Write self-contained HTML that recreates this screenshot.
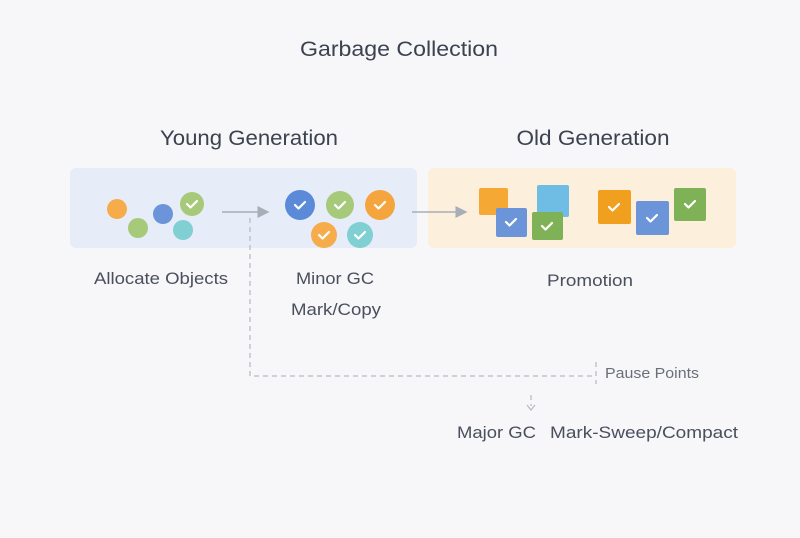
<!DOCTYPE html>
<html><head><style>body{margin:0;background:#f7f7fa}</style></head><body>
<svg width="800" height="533" viewBox="0 0 800 533" xmlns="http://www.w3.org/2000/svg" font-family="Liberation Sans, sans-serif">
<rect width="800" height="533" fill="#f7f7fa"/>
<g fill="#3c4250" text-anchor="middle" lengthAdjust="spacingAndGlyphs">
<text x="399" y="56" font-size="21" textLength="198" lengthAdjust="spacingAndGlyphs">Garbage Collection</text>
<text x="249" y="145" font-size="21" textLength="178" lengthAdjust="spacingAndGlyphs">Young Generation</text>
<text x="593" y="145" font-size="21" textLength="153" lengthAdjust="spacingAndGlyphs">Old Generation</text>
<g font-size="16.5" fill="#4a4f5c">
<text x="161" y="284" textLength="134" lengthAdjust="spacingAndGlyphs">Allocate Objects</text>
<text x="335" y="284" textLength="78" lengthAdjust="spacingAndGlyphs">Minor GC</text>
<text x="336" y="315" textLength="90" lengthAdjust="spacingAndGlyphs">Mark/Copy</text>
<text x="590" y="286" textLength="86" lengthAdjust="spacingAndGlyphs">Promotion</text>
<text x="496.5" y="438" textLength="79" lengthAdjust="spacingAndGlyphs">Major GC</text>
<text x="644" y="438" textLength="188" lengthAdjust="spacingAndGlyphs">Mark-Sweep/Compact</text>
</g>
<text x="652" y="378" font-size="15" fill="#6a6f7a" textLength="94" lengthAdjust="spacingAndGlyphs">Pause Points</text>
</g>
<rect x="70" y="168" width="347" height="80" rx="6" fill="#e6edf8"/>
<rect x="428" y="168" width="308" height="80" rx="6" fill="#fcefdc"/>
<defs><marker id="a" markerWidth="8" markerHeight="8" refX="7" refY="4" orient="auto"><path d="M0,0 L8,4 L0,8z" fill="#a9adb6"/></marker>
<g id="c"><path d="M-5,0 L-1.5,3.5 L5,-3" stroke="#fff" stroke-width="2.2" fill="none" stroke-linecap="round" stroke-linejoin="round"/></g></defs>
<line x1="222" y1="212" x2="268" y2="212" stroke="#a9adb6" stroke-width="1.5" marker-end="url(#a)"/>
<line x1="412" y1="212" x2="466" y2="212" stroke="#a9adb6" stroke-width="1.5" marker-end="url(#a)"/>
<circle cx="117" cy="209" r="10" fill="#f7ac4c"/>
<circle cx="138" cy="228" r="10" fill="#a6c97a"/>
<circle cx="163" cy="214" r="10" fill="#6b95d8"/>
<circle cx="192" cy="204" r="12" fill="#a6c97a"/><use href="#c" x="192" y="204"/>
<circle cx="183" cy="230" r="10" fill="#7fcfd3"/>
<circle cx="300" cy="205" r="15" fill="#5b8bd8"/><use href="#c" x="300" y="205"/>
<circle cx="340" cy="205" r="14" fill="#a6c97a"/><use href="#c" x="340" y="205"/>
<circle cx="380" cy="205" r="15" fill="#f5a53d"/><use href="#c" x="380" y="205"/>
<circle cx="324" cy="235" r="13" fill="#f7ac4c"/><use href="#c" x="324" y="235"/>
<circle cx="360" cy="235" r="13" fill="#7fcfd3"/><use href="#c" x="360" y="235"/>
<rect x="479" y="188" width="29" height="27" rx="2" fill="#f5a833"/>
<rect x="537" y="185" width="32" height="32" rx="2" fill="#6fbde4"/>
<rect x="496" y="208" width="31" height="29" rx="2" fill="#6b95d8"/><use href="#c" x="511" y="222"/>
<rect x="532" y="212" width="31" height="28" rx="2" fill="#7fb257"/><use href="#c" x="547" y="226"/>
<rect x="598" y="190" width="33" height="34" rx="2" fill="#f19f1e"/><use href="#c" x="614" y="207"/>
<rect x="636" y="201" width="33" height="34" rx="2" fill="#6b95d8"/><use href="#c" x="652" y="218"/>
<rect x="674" y="188" width="32" height="33" rx="2" fill="#7fb257"/><use href="#c" x="690" y="204"/>
<g stroke="#b5b8bf" stroke-width="1.2" stroke-dasharray="5,4" fill="none">
<path d="M250,218 V376 H592"/>
<line x1="596" y1="362" x2="596" y2="384"/>
<line x1="531" y1="395" x2="531" y2="406"/>
</g>
<path d="M527,405 L531,410 L535,405" stroke="#b5b8bf" stroke-width="1.2" fill="none"/>
</svg>
</body></html>
